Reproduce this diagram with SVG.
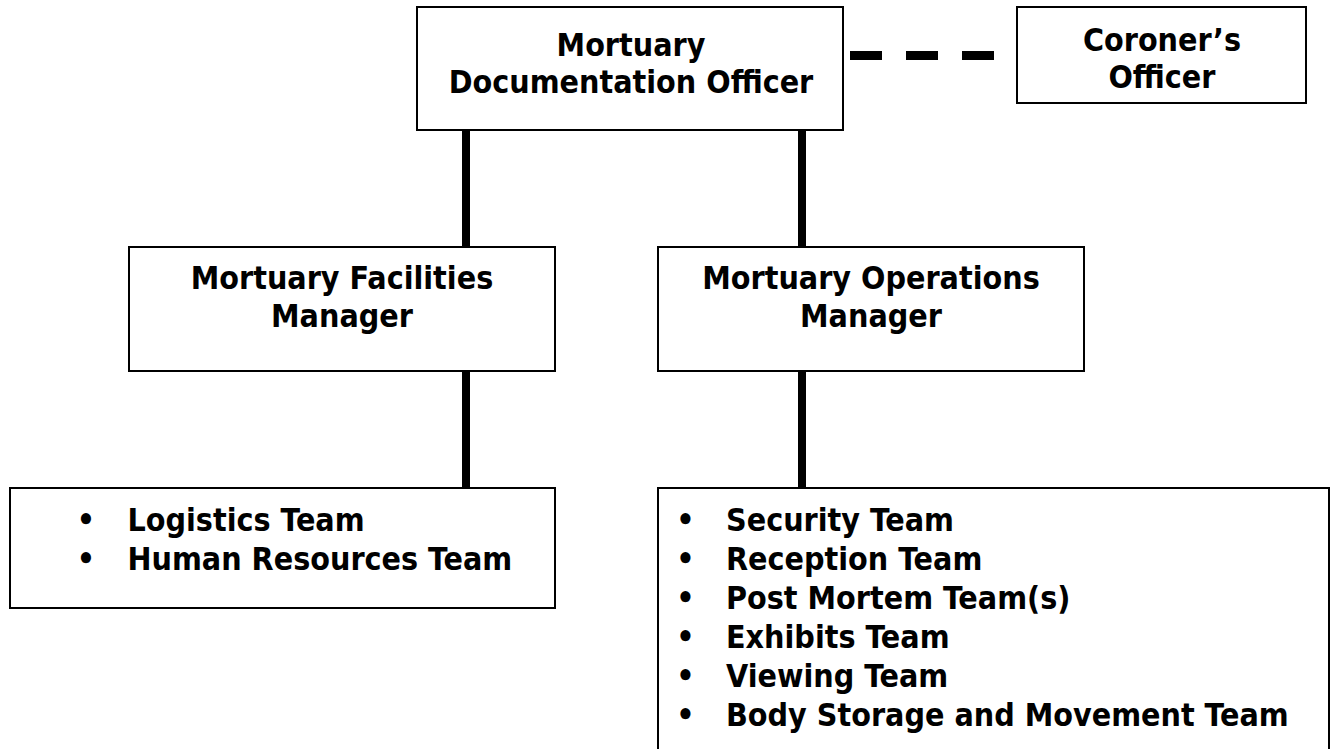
<svg xmlns="http://www.w3.org/2000/svg" width="1332" height="749" viewBox="0 0 1332 749">
<style>
.box{fill:#fff;stroke:#000;stroke-width:2}
.t{font-family:"DejaVu Sans Condensed","DejaVu Sans","Liberation Sans",sans-serif;font-stretch:condensed;font-weight:bold;font-size:31.9px;fill:#000}
.c{text-anchor:middle}
.b{text-anchor:middle}
.conn{stroke:#000;stroke-width:8;fill:none}
.dash{stroke:#000;stroke-width:9;fill:none;stroke-dasharray:32 24}
</style>
<rect width="1332" height="749" fill="#fff"/>
<g id="connectors">
<line class="conn" x1="466" y1="128" x2="466" y2="249"/>
<line class="conn" x1="802" y1="128" x2="802" y2="249"/>
<line class="conn" x1="466" y1="368" x2="466" y2="489"/>
<line class="conn" x1="802" y1="368" x2="802" y2="489"/>
<line class="dash" x1="850" y1="55.5" x2="994" y2="55.5"/>
</g>
<g id="doc-officer">
<rect class="box" x="417" y="7" width="426" height="123"/>
<text class="t c" x="631" y="56">Mortuary</text>
<text class="t c" x="631" y="92.5">Documentation Officer</text>
</g>
<g id="coroners-officer">
<rect class="box" x="1017" y="7" width="289" height="96"/>
<text class="t c" x="1162" y="51">Coroner’s</text>
<text class="t c" x="1162" y="88">Officer</text>
</g>
<g id="facilities-manager">
<rect class="box" x="129" y="247" width="426" height="124"/>
<text class="t c" x="342" y="289">Mortuary Facilities</text>
<text class="t c" x="342" y="326.5">Manager</text>
</g>
<g id="operations-manager">
<rect class="box" x="658" y="247" width="426" height="124"/>
<text class="t c" x="871" y="289">Mortuary Operations</text>
<text class="t c" x="871" y="326.5">Manager</text>
</g>
<g id="facilities-teams">
<rect class="box" x="10" y="488" width="545" height="120"/>
<text class="t b" x="86" y="531">•</text>
<text class="t" x="127.5" y="531">Logistics Team</text>
<text class="t b" x="86" y="570">•</text>
<text class="t" x="127.5" y="570">Human Resources Team</text>
</g>
<g id="operations-teams">
<rect class="box" x="658" y="488" width="671" height="280"/>
<text class="t b" x="685.5" y="531">•</text>
<text class="t" x="726" y="531">Security Team</text>
<text class="t b" x="685.5" y="570">•</text>
<text class="t" x="726" y="570">Reception Team</text>
<text class="t b" x="685.5" y="609">•</text>
<text class="t" x="726" y="609">Post Mortem Team(s)</text>
<text class="t b" x="685.5" y="648">•</text>
<text class="t" x="726" y="648">Exhibits Team</text>
<text class="t b" x="685.5" y="687">•</text>
<text class="t" x="726" y="687">Viewing Team</text>
<text class="t b" x="685.5" y="726">•</text>
<text class="t" x="726" y="726">Body Storage and Movement Team</text>
</g>
</svg>
